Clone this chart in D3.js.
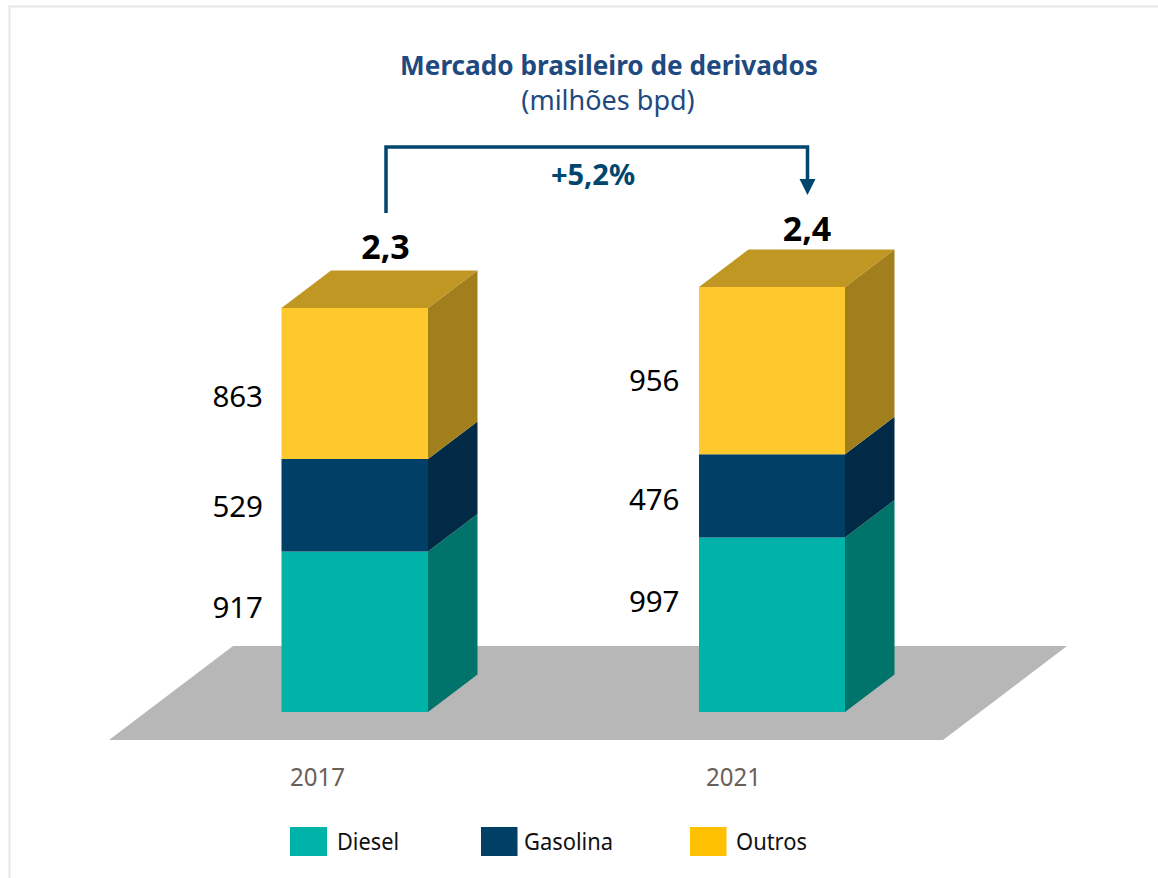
<!DOCTYPE html>
<html><head><meta charset="utf-8">
<script src="https://cdn.jsdelivr.net/npm/d3@7/dist/d3.min.js"></script>
<style>html,body{margin:0;padding:0;background:#fff}svg{display:block}text{font-family:"Noto Sans",sans-serif}</style>
</head><body><div id="c"></div>
<script>
const years = ["2017", "2021"];
const seriesNames = ["Diesel", "Gasolina", "Outros"];
const diesel = [917, 997];
const gasolina = [529, 476];
const outros = [863, 956];
const totals = ["2,3", "2,4"];
const changeLabel = "+5,2%";
const titleText = "Mercado brasileiro de derivados";
const subtitleText = "(milhões bpd)";
const frontColors = ["#00b3a8", "#003f66", "#ffc92e"];
const sideColors = ["#00746b", "#002a45", "#a17f1c"];
const topColor = "#bf9722";
const legendColors = ["#00b3a8", "#003f66", "#ffc000"];

const W = 1158, H = 878;
const svg = d3.select("#c").append("svg").attr("width", W).attr("height", H);
const barW = 146.5, dx = 49.5, dy = -37.5;
const x = d3.scalePoint().domain(years).range([281.5, 699]);
const y = d3.scaleLinear().domain([0, 2429]).range([712, 287]);
const stack = d3.stack().keys(seriesNames).value((d, k) => d[k]);
const rows = years.map((yr, i) => ({year: yr, Diesel: diesel[i], Gasolina: gasolina[i], Outros: outros[i]}));
const layers = stack(rows);

// label placement relative to each segment's centre (layout only)
const labelShift = [[-25, -24], [1, 3], [13, 9]];
const labelGap = [18.5, 19.5];

// frame
svg.append("path").attr("d", `M${W},6.5H9.5V${H}`).attr("fill", "none").attr("stroke", "#e6e6e6").attr("stroke-width", 2);

// floor
svg.append("polygon").attr("points", "109,740 233,646 1067,646 943,740").attr("fill", "#b7b7b7");

// bars
layers.forEach((layer, li) => {
  const g = svg.append("g");
  layer.forEach((d, i) => {
    const xx = x(years[i]), y0 = y(d[0]), y1 = y(d[1]);
    const w = i === 0 ? barW : barW - 0.5;
    g.append("polygon").attr("fill", sideColors[li])
      .attr("points", [[xx+w,y0],[xx+w+dx,y0+dy],[xx+w+dx,y1+dy],[xx+w,y1]].join(" "));
    g.append("rect").attr("x", xx).attr("y", y1).attr("width", w).attr("height", y0 - y1).attr("fill", frontColors[li]);
    if (li === layers.length - 1) {
      g.append("polygon").attr("fill", topColor)
        .attr("points", [[xx,y1],[xx+dx,y1+dy],[xx+w+dx,y1+dy],[xx+w,y1]].join(" "));
    }
    svg.append("text").attr("x", xx - labelGap[i]).attr("y", (y0 + y1) / 2 + 11 + labelShift[li][i])
      .attr("text-anchor", "end").attr("font-size", 29.5).attr("fill", "#000").text(d.data[seriesNames[li]]);
  });
});

// totals
years.forEach((yr, i) => {
  const top = y(diesel[i] + gasolina[i] + outros[i]);
  svg.append("text").attr("x", x(yr) + (i === 0 ? 104 : 108)).attr("y", top + dy - (i === 0 ? 11 : 9))
    .attr("text-anchor", "middle").attr("font-size", 34).attr("font-weight", 700).attr("fill", "#000").text(totals[i]);
  svg.append("text").attr("x", x(yr) + (i === 0 ? 8.5 : 7)).attr("y", 786)
    .attr("font-size", 26).attr("fill", "#6b6058").attr("textLength", 55).attr("lengthAdjust", "spacingAndGlyphs").text(yr);
});

// title
svg.append("text").attr("x", 609).attr("y", 75).attr("text-anchor", "middle").attr("font-size", 26.2).attr("font-weight", 700).attr("fill", "#1f4a7f").text(titleText);
svg.append("text").attr("x", 608).attr("y", 110).attr("text-anchor", "middle").attr("font-size", 27).attr("fill", "#1f4a7f").text(subtitleText);

// change bracket
svg.append("path").attr("d", "M386,213V147H807.5V182").attr("fill", "none").attr("stroke", "#00466e").attr("stroke-width", 3.5);
svg.append("polygon").attr("points", "799.5,179 815.5,179 807.5,195").attr("fill", "#00466e");
svg.append("text").attr("x", 593).attr("y", 185).attr("text-anchor", "middle").attr("font-size", 29).attr("font-weight", 700).attr("fill", "#00466e").text(changeLabel);

// legend
const legendX = [290, 481, 690];
const legendTextX = [337, 524, 736];
const legendTextW = [62, 89, 71];
seriesNames.forEach((n, i) => {
  svg.append("rect").attr("x", legendX[i]).attr("y", 827).attr("width", i === 0 ? 37 : 36.5).attr("height", 29).attr("fill", legendColors[i]);
  svg.append("text").attr("x", legendTextX[i]).attr("y", 850).attr("font-size", 23).attr("fill", "#111")
    .attr("textLength", legendTextW[i]).attr("lengthAdjust", "spacingAndGlyphs").text(n);
});
</script></body></html>
